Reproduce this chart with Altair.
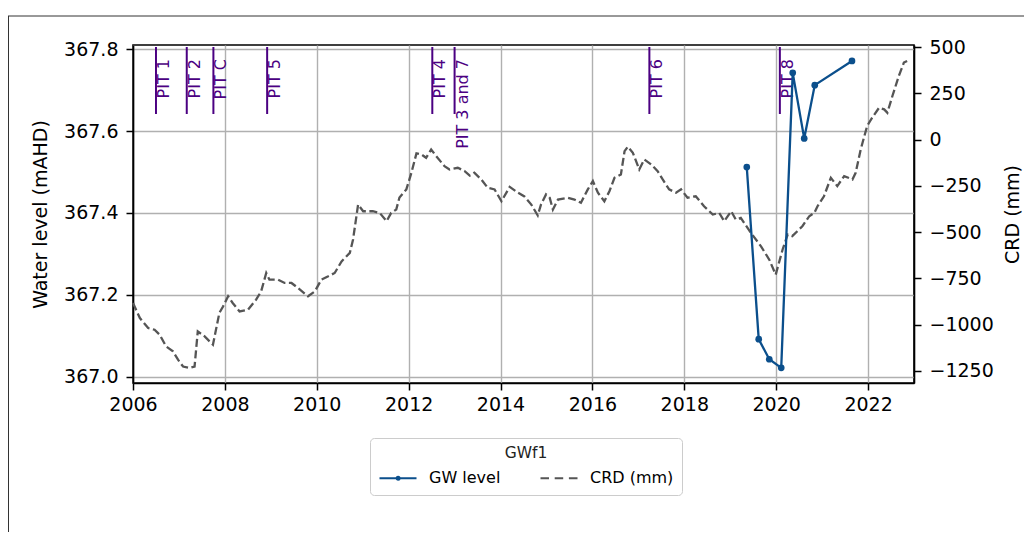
import altair as alt
import pandas as pd

FONT = "DejaVu Sans"
PURPLE = "#4b0082"
BLUE = "#0b4f8c"
GREY = "#555555"

series_names = ["GW level", "CRD (mm)"]
legend_title = "GWf1"

gw_years = [2019.36, 2019.62, 2019.85, 2020.11, 2020.36, 2020.61, 2020.84, 2021.65]
gw_levels = [367.512, 367.092, 367.043, 367.022, 367.742, 367.582, 367.712, 367.771]

crd_years = [
    2006.00, 2006.15, 2006.33, 2006.47, 2006.58, 2006.72, 2006.87, 2006.98, 2007.09, 2007.23,
    2007.34, 2007.41, 2007.56, 2007.74, 2007.88, 2007.96, 2008.07, 2008.17, 2008.32, 2008.50,
    2008.68, 2008.79, 2008.90, 2008.97, 2009.16, 2009.30, 2009.45, 2009.59, 2009.81, 2009.96,
    2010.10, 2010.25, 2010.39, 2010.54, 2010.72, 2010.79, 2010.90, 2011.01, 2011.22, 2011.37,
    2011.52, 2011.62, 2011.73, 2011.80, 2011.95, 2012.06, 2012.17, 2012.28, 2012.38, 2012.49,
    2012.60, 2012.78, 2012.89, 2013.07, 2013.22, 2013.33, 2013.43, 2013.58, 2013.72, 2013.87,
    2014.02, 2014.20, 2014.38, 2014.52, 2014.67, 2014.81, 2014.88, 2014.99, 2015.07, 2015.14,
    2015.25, 2015.46, 2015.61, 2015.75, 2015.90, 2016.01, 2016.12, 2016.26, 2016.37, 2016.48,
    2016.62, 2016.70, 2016.77, 2016.88, 2017.02, 2017.13, 2017.28, 2017.42, 2017.53, 2017.67,
    2017.82, 2017.93, 2018.07, 2018.25, 2018.43, 2018.62, 2018.76, 2018.87, 2019.02, 2019.12,
    2019.23, 2019.45, 2019.67, 2019.85, 2019.99, 2020.14, 2020.25, 2020.35, 2020.46, 2020.57,
    2020.72, 2020.83, 2020.90, 2021.04, 2021.19, 2021.33, 2021.48, 2021.66, 2021.73, 2021.84,
    2021.98, 2022.09, 2022.24, 2022.35, 2022.42, 2022.53, 2022.67, 2022.78, 2022.85,
]
crd_values = [
    -883, -965, -1019, -1028, -1055, -1118, -1145, -1190, -1227, -1235,
    -1227, -1037, -1064, -1109, -937, -902, -847, -883, -929, -920,
    -865, -820, -721, -757, -757, -775, -775, -802, -847, -820,
    -757, -739, -721, -658, -612, -540, -351, -387, -387, -396,
    -441, -396, -378, -313, -269, -179, -74, -80, -98, -53,
    -89, -143, -161, -152, -170, -194, -179, -215, -260, -269,
    -333, -255, -287, -307, -351, -410, -351, -296, -314, -378,
    -324, -314, -324, -341, -269, -224, -287, -333, -279, -206,
    -188, -62, -38, -71, -161, -107, -134, -170, -215, -269,
    -287, -269, -314, -306, -360, -405, -396, -441, -387, -432,
    -423, -504, -577, -649, -730, -594, -513, -522, -495, -468,
    -414, -396, -360, -306, -206, -251, -197, -215, -179, -53,
    74, 119, 173, 164, 146, 236, 345, 417, 426,
]

pit_names = ["PIT 1", "PIT 2", "PIT C", "PIT 5", "PIT 4", "PIT 3 and 7", "PIT 6", "PIT 8"]
pit_years = [2006.50, 2007.17, 2007.75, 2008.92, 2012.515, 2013.00, 2017.24, 2020.08]

x_ticks = [2006, 2008, 2010, 2012, 2014, 2016, 2018, 2020, 2022]
left_ticks = [367.0, 367.2, 367.4, 367.6, 367.8]
right_ticks = [500, 250, 0, -250, -500, -750, -1000, -1250]

gw_df = pd.DataFrame({"year": gw_years, "level": gw_levels, "series": series_names[0]})
crd_df = pd.DataFrame({"year": crd_years, "crd": crd_values, "series": series_names[1]})
pit_df = pd.DataFrame({"year": pit_years, "label": pit_names})
one_df = pd.DataFrame({"k": [0]})

W, H = 781, 338
PAD = {"left": 125, "top": 37, "right": 110, "bottom": 149}

x_enc = alt.X(
    "year:Q",
    scale=alt.Scale(domain=[2006, 2023], nice=False, zero=False),
    axis=alt.Axis(values=x_ticks, format="d", title=None, grid=True, labelFlush=False,
                  labelPadding=5),
)

gw_path = "M-1,0L2.7,0M1.0,0A0.14,0.14,0,1,1,0.72,0A0.14,0.14,0,1,1,1.0,0Z"
crd_path = "M-1,0L-0.15,0M0.42,0L1.27,0M1.84,0L2.7,0"

color = alt.Color(
    "series:N",
    scale=alt.Scale(domain=series_names, range=[BLUE, GREY]),
    legend=alt.Legend(
        title=legend_title,
        orient="none",
        legendX=237,
        legendY=393,
        direction="horizontal",
        titleAnchor="middle",
        titleFont=FONT,
        titleFontSize=15.5,
        titleFontWeight="normal",
        titleColor="#222222",
        titlePadding=5,
        labelFont=FONT,
        labelFontSize=16,
        labelColor="black",
        labelOffset=28,
        symbolSize=400,
        symbolStrokeWidth=2.2,
        symbolType=alt.ExprRef(
            expr="datum.value === 'GW level' ? '" + gw_path + "' : '" + crd_path + "'"
        ),
        symbolFillColor=alt.ExprRef(
            expr="datum.value === 'GW level' ? '" + BLUE + "' : 'transparent'"
        ),
        columnPadding=35,
        padding=8,
        strokeColor="#cccccc",
        fillColor="white",
        cornerRadius=4,
    ),
)

crd_layer = alt.Chart(crd_df).mark_line(strokeDash=[8, 3.5], strokeWidth=2.3).encode(
    x=x_enc,
    y=alt.Y(
        "crd:Q",
        scale=alt.Scale(domain=[-1316, 512], nice=False, zero=False),
        axis=alt.Axis(orient="right", values=right_ticks, format="d", title="CRD (mm)",
                      titleAngle=270, grid=False, titlePadding=29),
    ),
    color=color,
)

gw_layer = alt.Chart(gw_df).mark_line(
    strokeWidth=2.3, point=alt.OverlayMarkDef(filled=True, size=45, color=BLUE)
).encode(
    x=x_enc,
    y=alt.Y(
        "level:Q",
        scale=alt.Scale(domain=[366.985, 367.81], nice=False, zero=False),
        axis=alt.Axis(orient="left", values=left_ticks, format=".1f", title="Water level (mAHD)",
                      grid=True, titlePadding=13),
    ),
    color=color,
)

pit_rules = alt.Chart(pit_df).mark_rule(color=PURPLE, strokeWidth=2).encode(
    x=x_enc, y=alt.value(2), y2=alt.value(69)
)
pit_text = alt.Chart(pit_df).mark_text(
    angle=270, align="right", baseline="top", fontSize=16, font=FONT, color=PURPLE
).encode(x=x_enc, y=alt.value(14), text="label:N")

frame_top = alt.Chart(one_df).mark_rule(color="#333333", strokeWidth=1).encode(
    x=alt.value(-125), x2=alt.value(W + PAD["right"]), y=alt.value(-29)
)
frame_left = alt.Chart(one_df).mark_rule(color="#333333", strokeWidth=1).encode(
    x=alt.value(-124.5), y=alt.value(-29), y2=alt.value(H + PAD["bottom"])
)

chart = (
    alt.layer(crd_layer, pit_rules, pit_text, gw_layer, frame_top, frame_left)
    .resolve_scale(y="independent")
    .properties(width=W, height=H, padding=PAD, autosize="none")
    .configure_view(stroke="black", strokeWidth=1.6)
    .configure_axis(
        labelFont=FONT, titleFont=FONT, labelFontSize=19, titleFontSize=19,
        labelColor="black", titleColor="black", titleFontWeight="normal",
        domainColor="black", domainWidth=1.6, tickColor="black", tickSize=7,
        tickWidth=1.5, gridColor="#b0b0b0", gridWidth=1.4, labelPadding=8,
    )
)

chart.save("out.html", embed_options={"renderer": "svg", "actions": False})
